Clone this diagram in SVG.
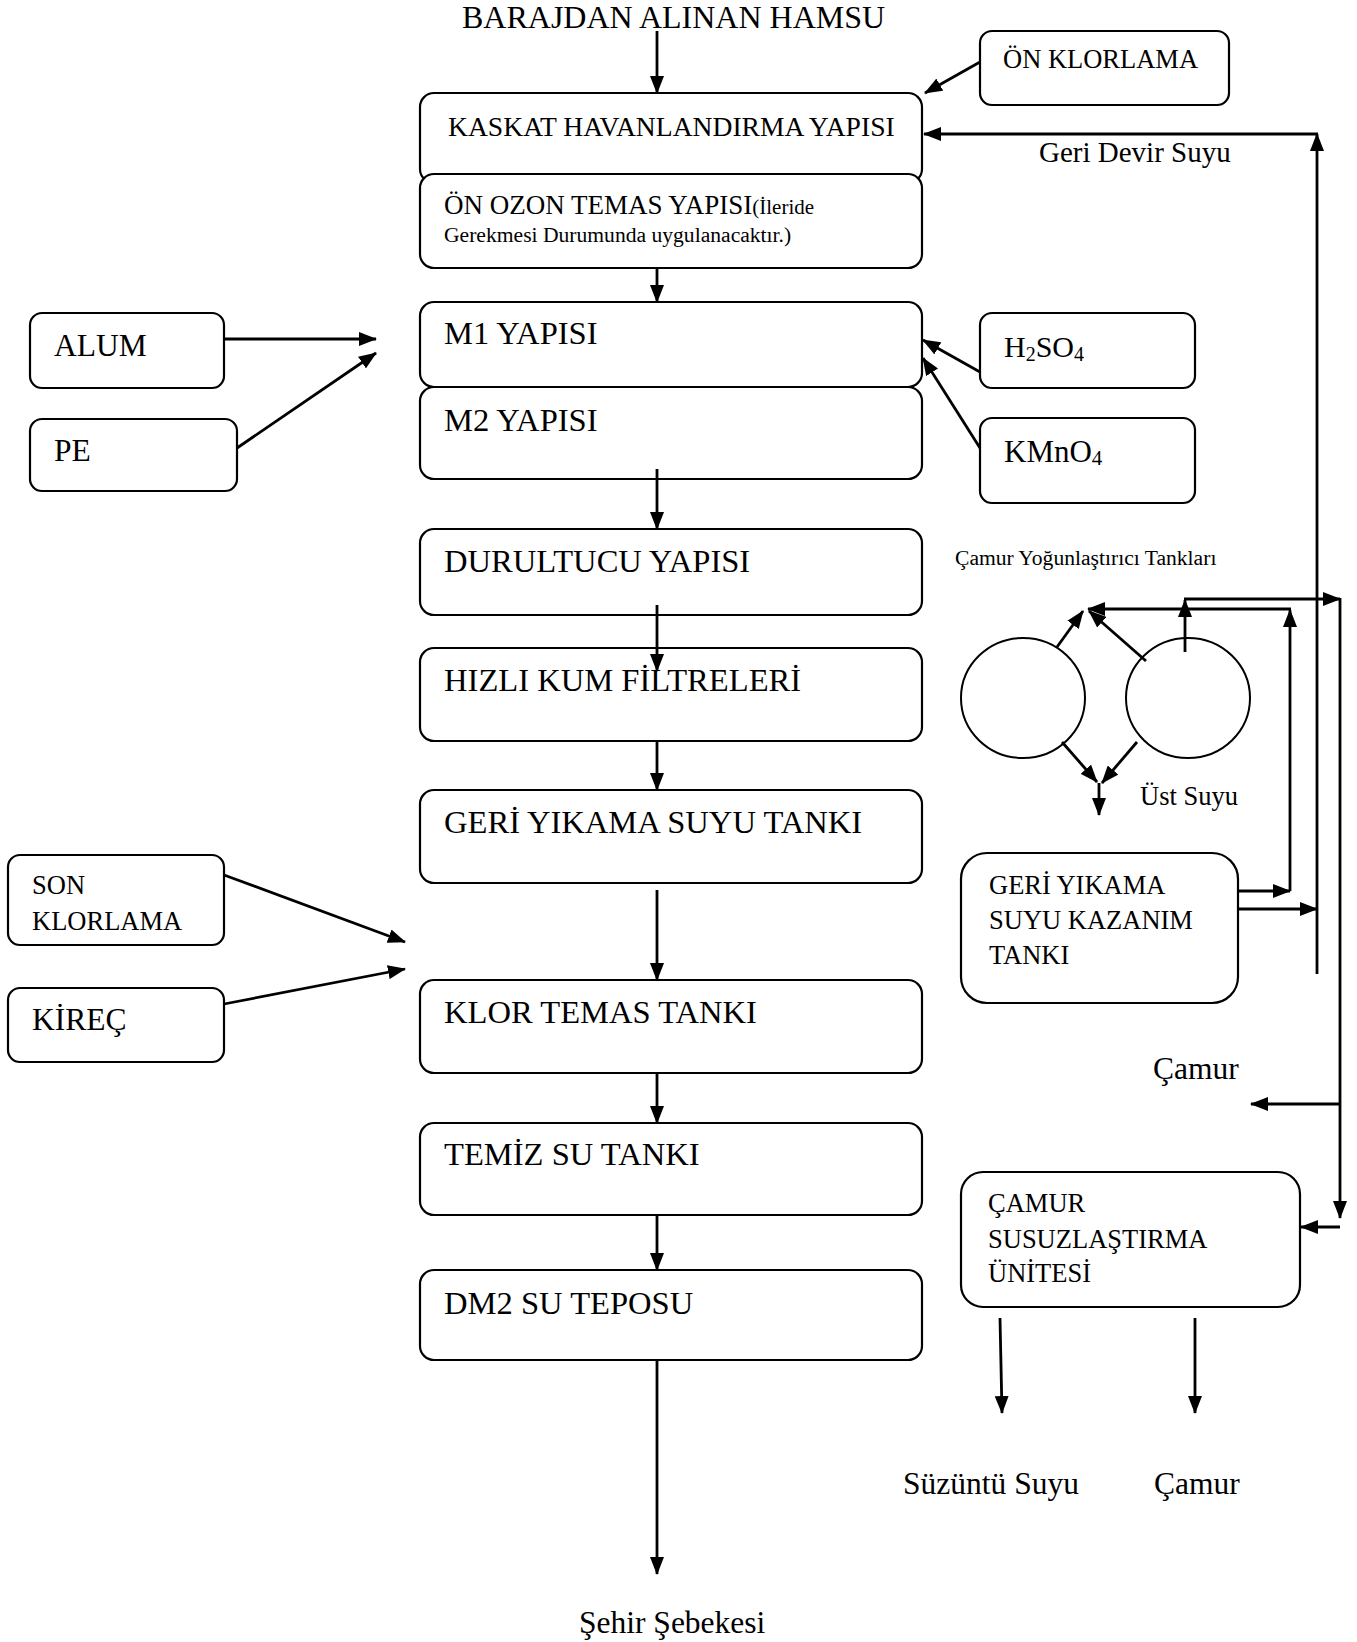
<svg xmlns="http://www.w3.org/2000/svg" width="1357" height="1642" viewBox="0 0 1357 1642">
<style>
text{font-family:"Liberation Serif","Times New Roman",serif;fill:#000}
.box{fill:#fff;stroke:#000;stroke-width:2.2}
.big{font-size:31.5px}
.main{font-size:32.6px}
.mid{font-size:26.5px}
.sm{font-size:21.6px}
.c line{stroke:#000;stroke-width:2.8;fill:none}
.a{marker-end:url(#ah)}
</style>
<defs>
<marker id="ah" markerUnits="userSpaceOnUse" markerWidth="18" markerHeight="14" refX="17" refY="7" orient="auto">
<path d="M0,0 L18,7 L0,14 z" fill="#000"/>
</marker>
</defs>
<rect width="1357" height="1642" fill="#fff"/>

<g id="n-baraj"><text style="font-size:32px" x="462" y="28">BARAJDAN ALINAN HAMSU</text></g>

<g id="n-kaskat"><rect class="box" x="420" y="93" width="502" height="90" rx="14"/><text style="font-size:27.6px" x="448" y="136">KASKAT HAVANLANDIRMA YAPISI</text></g>
<g id="n-onozon"><rect class="box" x="420" y="174" width="502" height="94" rx="14"/><text style="font-size:27px" x="444" y="214">ÖN OZON TEMAS YAPISI<tspan style="font-size:21px">(İleride</tspan></text><text class="sm" x="444" y="242">Gerekmesi Durumunda uygulanacaktır.)</text></g>
<g id="n-m1"><rect class="box" x="420" y="302" width="502" height="85" rx="14"/><text class="main" x="444" y="344">M1 YAPISI</text></g>
<g id="n-m2"><rect class="box" x="420" y="387" width="502" height="92" rx="14"/><text class="main" x="444" y="431">M2 YAPISI</text></g>
<g id="n-durultucu"><rect class="box" x="420" y="529" width="502" height="86" rx="14"/><text class="main" x="444" y="572">DURULTUCU YAPISI</text></g>
<g id="n-hizli"><rect class="box" x="420" y="648" width="502" height="93" rx="14"/><text class="main" x="444" y="691">HIZLI KUM FİLTRELERİ</text></g>
<g id="n-geriyikama"><rect class="box" x="420" y="790" width="502" height="93" rx="14"/><text class="main" x="444" y="833">GERİ YIKAMA SUYU TANKI</text></g>
<g id="n-klortemas"><rect class="box" x="420" y="980" width="502" height="93" rx="14"/><text class="main" x="444" y="1023">KLOR TEMAS TANKI</text></g>
<g id="n-temiz"><rect class="box" x="420" y="1123" width="502" height="92" rx="14"/><text class="main" x="444" y="1165">TEMİZ SU TANKI</text></g>
<g id="n-dm2"><rect class="box" x="420" y="1270" width="502" height="90" rx="14"/><text class="main" x="444" y="1314">DM2 SU TEPOSU</text></g>
<g id="n-sehir"><text class="big" x="579" y="1633">Şehir Şebekesi</text></g>

<g id="n-alum"><rect class="box" x="30" y="313" width="194" height="75" rx="12"/><text class="big" x="54" y="356">ALUM</text></g>
<g id="n-pe"><rect class="box" x="30" y="419" width="207" height="72" rx="12"/><text class="big" x="54" y="461">PE</text></g>
<g id="n-sonklor"><rect class="box" x="8" y="855" width="216" height="90" rx="12"/><text class="mid" x="32" y="894">SON</text><text class="mid" x="32" y="930">KLORLAMA</text></g>
<g id="n-kirec"><rect class="box" x="8" y="988" width="216" height="74" rx="12"/><text class="big" x="32" y="1030">KİREÇ</text></g>

<g id="n-onklor"><rect class="box" x="980" y="31" width="249" height="74" rx="12"/><text class="mid" x="1003" y="68">ÖN KLORLAMA</text></g>
<g id="n-gerid"><text style="font-size:29px" x="1039" y="162">Geri Devir Suyu</text></g>
<g id="n-h2so4"><rect class="box" x="980" y="313" width="215" height="75" rx="12"/><text style="font-size:30px" x="1004" y="357">H<tspan style="font-size:20px" dy="4">2</tspan><tspan dy="-4">SO</tspan><tspan style="font-size:20px" dy="4">4</tspan></text></g>
<g id="n-kmno4"><rect class="box" x="980" y="418" width="215" height="85" rx="12"/><text style="font-size:31px" x="1004" y="462">KMnO<tspan style="font-size:21px" dy="3">4</tspan></text></g>

<g id="n-yogun"><text class="sm" x="955" y="565">Çamur Yoğunlaştırıcı Tankları</text>
<ellipse cx="1023" cy="698" rx="62" ry="60" fill="none" stroke="#000" stroke-width="2"/>
<ellipse cx="1188" cy="698" rx="62" ry="60" fill="none" stroke="#000" stroke-width="2"/></g>
<g id="n-ust"><text class="mid" x="1140" y="805">Üst Suyu</text></g>
<g id="n-kazanim"><rect class="box" x="961" y="853" width="277" height="150" rx="26"/><text class="mid" x="989" y="894">GERİ YIKAMA</text><text class="mid" x="989" y="929">SUYU KAZANIM</text><text class="mid" x="989" y="964">TANKI</text></g>
<g id="n-camur1"><text class="big" x="1153" y="1079">Çamur</text></g>
<g id="n-susuz"><rect class="box" x="961" y="1172" width="339" height="135" rx="22"/><text class="mid" x="988" y="1212">ÇAMUR</text><text class="mid" x="988" y="1248">SUSUZLAŞTIRMA</text><text class="mid" x="988" y="1282">ÜNİTESİ</text></g>
<g id="n-suzuntu"><text class="big" x="903" y="1494">Süzüntü Suyu</text></g>
<g id="n-camur2"><text class="big" x="1154" y="1494">Çamur</text></g>

<g id="connectors" class="c">
<line class="a" x1="657" y1="31" x2="657" y2="93"/>
<line class="a" x1="657" y1="268" x2="657" y2="302"/>
<line class="a" x1="657" y1="469" x2="657" y2="529"/>
<line class="a" x1="657" y1="605" x2="657" y2="671"/>
<line class="a" x1="657" y1="741" x2="657" y2="790"/>
<line class="a" x1="657" y1="890" x2="657" y2="980"/>
<line class="a" x1="657" y1="1073" x2="657" y2="1123"/>
<line class="a" x1="657" y1="1215" x2="657" y2="1270"/>
<line class="a" x1="657" y1="1360" x2="657" y2="1574"/>

<line class="a" x1="980" y1="62" x2="925" y2="93"/>
<line class="a" x1="1317" y1="974" x2="1317" y2="134"/>
<line class="a" x1="1318" y1="134" x2="924" y2="134"/>

<line class="a" x1="224" y1="339" x2="376" y2="339"/>
<line class="a" x1="237" y1="448" x2="376" y2="353"/>
<line class="a" x1="980" y1="372" x2="923" y2="340"/>
<line class="a" x1="980" y1="448" x2="923" y2="358"/>

<line class="a" x1="224" y1="875" x2="405" y2="942"/>
<line class="a" x1="224" y1="1004" x2="405" y2="969"/>

<line class="a" x1="1057" y1="647" x2="1083" y2="611"/>
<line class="a" x1="1146" y1="661" x2="1089" y2="611"/>
<line class="a" x1="1062" y1="742" x2="1097" y2="782"/>
<line class="a" x1="1137" y1="742" x2="1102" y2="783"/>
<line class="a" x1="1099" y1="783" x2="1099" y2="815"/>

<line class="a" x1="1238" y1="891" x2="1290" y2="891"/>
<line class="a" x1="1290" y1="891" x2="1290" y2="610"/>
<line class="a" x1="1291" y1="609" x2="1088" y2="609"/>
<line class="a" x1="1238" y1="909" x2="1317" y2="909"/>

<line class="a" x1="1185" y1="652" x2="1185" y2="600"/>
<line class="a" x1="1184" y1="599" x2="1340" y2="599"/>
<line class="a" x1="1340" y1="598" x2="1340" y2="1218"/>
<line class="a" x1="1340" y1="1104" x2="1251" y2="1104"/>
<line class="a" x1="1340" y1="1227" x2="1301" y2="1227"/>

<line class="a" x1="1000" y1="1318" x2="1002" y2="1413"/>
<line class="a" x1="1195" y1="1318" x2="1195" y2="1413"/>
</g>
</svg>
